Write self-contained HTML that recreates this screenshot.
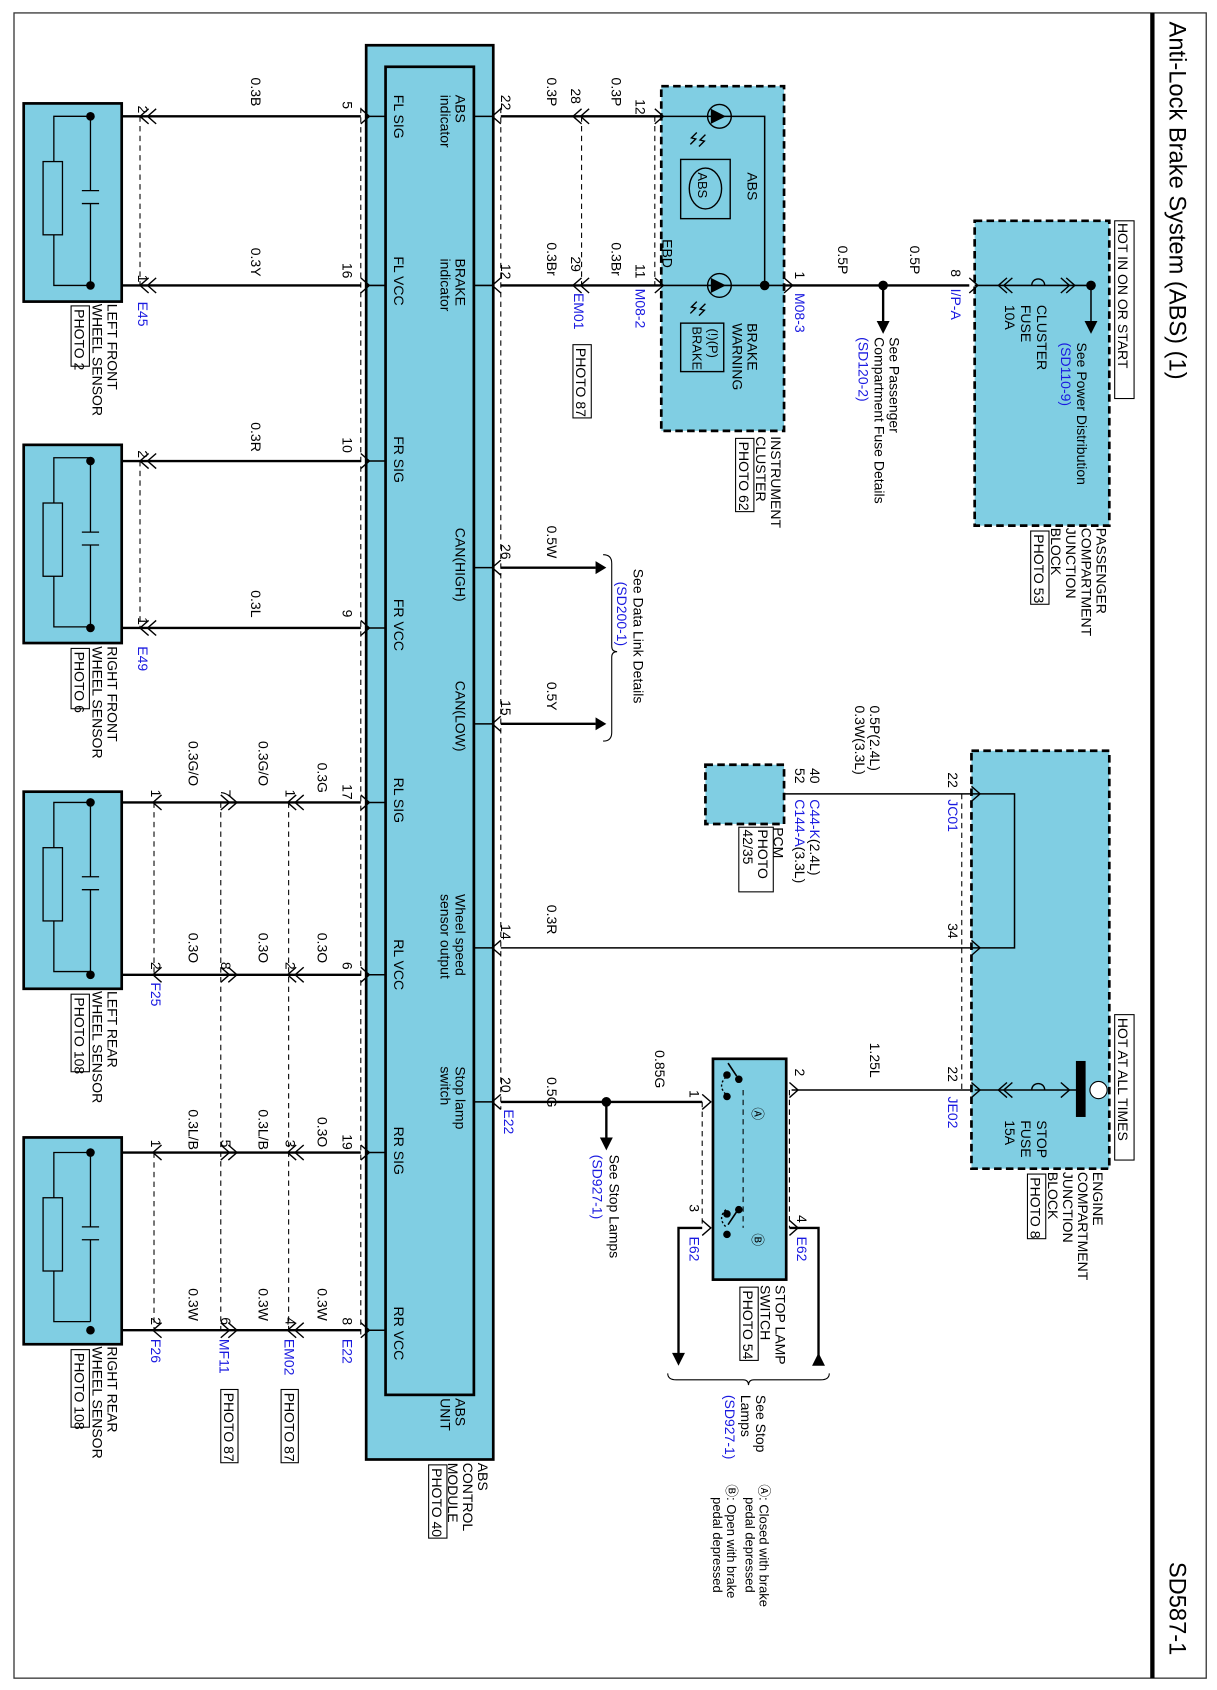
<!DOCTYPE html>
<html><head><meta charset="utf-8"><style>
html,body{margin:0;padding:0;background:#fff}
svg{display:block}
text{font-family:"Liberation Sans",Arial,sans-serif;font-size:13px;fill:#000}
.b{fill:#1a1ae0}
.s{font-size:12px}
</style></head><body>
<svg width="1217" height="1690" viewBox="0 0 1130 1569" preserveAspectRatio="none" xmlns="http://www.w3.org/2000/svg">
<rect x="0" y="0" width="1130" height="1569" fill="#fff"/>
<rect x="13" y="12" width="1107" height="1546" fill="none" stroke="#333" stroke-width="1.2"/>
<line x1="1070" y1="12" x2="1070" y2="1558" stroke="#000" stroke-width="4"/>
<text x="1086" y="20" transform="rotate(90 1086 20)" style="font-size:22px">Anti-Lock Brake System (ABS) (1)</text>
<text x="1086" y="1450" transform="rotate(90 1086 1450)" style="font-size:22px">SD587-1</text>

<g fill="#80cee3" stroke="#000">
<rect x="340" y="42" width="118" height="1313" stroke-width="2.5"/>
<rect x="358" y="62" width="82" height="1233" stroke-width="2.5"/>
<rect x="22" y="96" width="91" height="184" stroke-width="2.5"/>
<rect x="22" y="413" width="91" height="184" stroke-width="2.5"/>
<rect x="22" y="735" width="91" height="183" stroke-width="2.5"/>
<rect x="22" y="1056" width="91" height="192" stroke-width="2.5"/>
<rect x="614" y="80" width="114" height="320" stroke-width="2.5" stroke-dasharray="7,4"/>
<rect x="905" y="205" width="125" height="283" stroke-width="2.5" stroke-dasharray="7,4"/>
<rect x="902" y="697" width="128" height="388" stroke-width="2.5" stroke-dasharray="7,4"/>
<rect x="655" y="710" width="73" height="55" stroke-width="2.5" stroke-dasharray="7,4"/>
<rect x="662" y="983" width="68" height="205" stroke-width="2.5"/>
</g>

<g stroke="#000" stroke-width="1.2" fill="none">
<g id="sen">
<path d="M84 108 V177 M84 189 V265 M76 177 H92 M76 189 H92 M84 108 H50 V150 M50 218 V265 H84"/>
<rect x="40" y="150" width="18" height="68" fill="#80cee3"/>
</g>
<use href="#sen" y="317"/>
<use href="#sen" y="637"/>
<use href="#sen" y="962"/>
</g>
<g fill="#000">
<circle cx="84" cy="108" r="4"/><circle cx="84" cy="265" r="4"/>
<circle cx="84" cy="428" r="4"/><circle cx="84" cy="583" r="4"/>
<circle cx="84" cy="745" r="4"/><circle cx="84" cy="905" r="4"/>
<circle cx="84" cy="1070" r="4"/><circle cx="84" cy="1235" r="4"/>
</g>

<g stroke="#000" stroke-width="2.2" fill="none">
<path d="M113 108H335 M113 265H335 M113 428H335 M113 583H335 M113 745H335 M113 905H335 M113 1070H335 M113 1235H335"/>
<path d="M465 108H614 M465 265H614 M465 527H553 M465 672H553 M728 265H900"/>
<path d="M465 1023H652 M563 1023V1058"/>
<path d="M820 265V300"/>
<path d="M652 1140H630V1258 M733 1140H760V1262"/>
</g>
<g stroke="#000" stroke-width="1.4" fill="none">
<path d="M465 880H902 M728 737H902 M735 1012H902"/>
<path d="M440 108H458 M440 265H458 M440 527H458 M440 672H458 M440 880H458 M440 1023H458"/>
<path d="M340 108H358 M340 265H358 M340 428H358 M340 583H358 M340 745H358 M340 905H358 M340 1070H358 M340 1235H358"/>
<path d="M614 108H710V265 M614 265H728"/>
<path d="M902 737H942V880H902"/>
<path d="M905 265H1013V300 M905 1012H1000"/>
</g>
<g stroke="#000" stroke-width="1" stroke-dasharray="5,4" fill="none">
<path d="M130 108V265 M130 428V583 M143 745V905 M143 1070V1235"/>
<path d="M205 745V1235 M268 745V1235"/>
<path d="M335 100V1240 M465 100V1030 M540 108V265 M608 108V265"/>
<path d="M893 737V880 M893 880V1012"/>
<path d="M652 1023V1140 M733 1012V1140 M690 1012V1140"/>
</g>
<g stroke="#000" stroke-width="1.3" fill="none">
<path d="M138 101L130 108L138 115 M145 101L137 108L145 115"/>
<path d="M138 258L130 265L138 272 M145 258L137 265L145 272"/>
<path d="M138 421L130 428L138 435 M145 421L137 428L145 435"/>
<path d="M138 576L130 583L138 590 M145 576L137 583L145 590"/>
<path d="M335 101L343 108L335 115 M335 258L343 265L335 272 M335 421L343 428L335 435 M335 576L343 583L335 590 M335 738L343 745L335 752 M335 898L343 905L335 912 M335 1063L343 1070L335 1077 M335 1228L343 1235L335 1242"/>
<path d="M465 101L457 108L465 115 M465 258L457 265L465 272 M465 520L457 527L465 534 M465 665L457 672L465 679 M465 873L457 880L465 887 M465 1016L457 1023L465 1030"/>
<path d="M540 101L532 108L540 115 M547 101L539 108L547 115 M540 258L532 265L540 272 M547 258L539 265L547 272"/>
<path d="M608 101L616 108L608 115 M608 258L616 265L608 272 M728 258L736 265L728 272 M900 258L908 265L900 272"/>
<path d="M902 730L910 737L902 744 M902 873L910 880L902 887 M902 1005L910 1012L902 1019 M733 1005L741 1012L733 1019 M652 1016L660 1023L652 1030 M652 1133L660 1140L652 1147 M733 1133L741 1140L733 1147"/>
<path d="M150 738L142 745L150 752 M150 898L142 905L150 912 M150 1063L142 1070L150 1077 M150 1228L142 1235L150 1242"/>
<path d="M205 738L213 745L205 752 M212 738L220 745L212 752 M205 898L213 905L205 912 M212 898L220 905L212 912 M205 1063L213 1070L205 1077 M212 1063L220 1070L212 1077 M205 1228L213 1235L205 1242 M212 1228L220 1235L212 1242"/>
<path d="M275 738L267 745L275 752 M282 738L274 745L282 752 M275 898L267 905L275 912 M282 898L274 905L282 912 M275 1063L267 1070L275 1077 M282 1063L274 1070L282 1077 M275 1228L267 1235L275 1242 M282 1228L274 1235L282 1242"/>
<path d="M935 258L927 265L935 272 M940 258L932 265L940 272 M990 258L998 265L990 272 M985 258L993 265L985 272 M935 1005L927 1012L935 1019 M940 1005L932 1012L940 1019 M985 1005L993 1012L985 1019"/>
<path d="M958 265 c0 -8 12 -8 12 0 M958 1012 c0 -8 12 -8 12 0"/>
</g>
<g fill="#000">
<polygon points="553,521 563,527 553,533"/>
<polygon points="553,666 563,672 553,678"/>
<polygon points="814,298 826,298 820,310"/>
<polygon points="1007,298 1019,298 1013,310"/>
<polygon points="557,1056 569,1056 563,1068"/>
<polygon points="624,1256 636,1256 630,1268"/>
<polygon points="754,1268 766,1268 760,1256"/>
<circle cx="820" cy="265" r="4.5"/><circle cx="1013" cy="265" r="4.5"/>
<circle cx="710" cy="265" r="4.5"/><circle cx="563" cy="1023" r="4.5"/>
<rect x="999" y="985" width="9" height="52"/>
</g>
<circle cx="1020" cy="1012" r="8" fill="#fff" stroke="#000"/>
<g stroke="#000" stroke-width="1.3" fill="none">
<circle cx="668" cy="108" r="11"/><circle cx="668" cy="265" r="11"/>
<rect x="632" y="148" width="46" height="55"/><ellipse cx="655" cy="175" rx="15" ry="19"/>
<rect x="632" y="300" width="40" height="45"/>
<path d="M655 125l-5 5 4 1-5 5 M647 123l-5 5 4 1-5 5 M655 282l-5 5 4 1-5 5 M647 280l-5 5 4 1-5 5"/>
<path d="M684 999 l-8 -12 M684 1125 l-8 12" stroke-width="1.5"/>
<path d="M674 1000 q-8 8 0 16 M674 1123 q-8 8 0 16" stroke-dasharray="2,2"/>
</g>
<g fill="#000"><polygon points="660,101 660,115 674,108"/><polygon points="660,258 660,272 674,265"/>
<circle cx="686" cy="1002" r="3.5"/><circle cx="675" cy="998" r="3.5"/><circle cx="675" cy="1018" r="3.5"/>
<circle cx="686" cy="1123" r="3.5"/><circle cx="675" cy="1127" r="3.5"/><circle cx="675" cy="1146" r="3.5"/></g>
<path d="M560 515 q8 0 8 8 V600 q0 5 5 5 q-5 0 -5 5 V680 q0 8 -8 8" fill="none" stroke="#000"/>
<path d="M620 1275 q0 6 8 6 H690 q5 0 5 5 q0 -5 5 -5 H762 q8 0 8 -6" fill="none" stroke="#000"/>

<g>
<text x="233" y="72" transform="rotate(90 233 72)">0.3B</text>
<text x="233" y="230" transform="rotate(90 233 230)">0.3Y</text>
<text x="233" y="392" transform="rotate(90 233 392)">0.3R</text>
<text x="233" y="548" transform="rotate(90 233 548)">0.3L</text>
<text x="318" y="94" transform="rotate(90 318 94)">5</text>
<text x="318" y="244" transform="rotate(90 318 244)">16</text>
<text x="318" y="406" transform="rotate(90 318 406)">10</text>
<text x="318" y="566" transform="rotate(90 318 566)">9</text>
<text x="128" y="98" transform="rotate(90 128 98)">2</text>
<text x="128" y="255" transform="rotate(90 128 255)">1</text>
<text x="128" y="418" transform="rotate(90 128 418)">2</text>
<text x="128" y="573" transform="rotate(90 128 573)">1</text>
<text class="b" x="128" y="280" transform="rotate(90 128 280)">E45</text>
<text class="b" x="128" y="600" transform="rotate(90 128 600)">E49</text>
<text x="100" y="282" transform="rotate(90 100 282)">LEFT FRONT</text>
<text x="86" y="282" transform="rotate(90 86 282)">WHEEL SENSOR</text>
<text x="69" y="287" transform="rotate(90 69 287)">PHOTO 2</text><rect x="66" y="284" width="17" height="56" fill="none" stroke="#000"/>
<text x="100" y="600" transform="rotate(90 100 600)">RIGHT FRONT</text>
<text x="86" y="600" transform="rotate(90 86 600)">WHEEL SENSOR</text>
<text x="69" y="605" transform="rotate(90 69 605)">PHOTO 6</text><rect x="66" y="602" width="17" height="56" fill="none" stroke="#000"/>
<text x="100" y="920" transform="rotate(90 100 920)">LEFT REAR</text>
<text x="86" y="920" transform="rotate(90 86 920)">WHEEL SENSOR</text>
<text x="69" y="926" transform="rotate(90 69 926)">PHOTO 108</text><rect x="66" y="923" width="17" height="72" fill="none" stroke="#000"/>
<text x="100" y="1250" transform="rotate(90 100 1250)">RIGHT REAR</text>
<text x="86" y="1250" transform="rotate(90 86 1250)">WHEEL SENSOR</text>
<text x="69" y="1256" transform="rotate(90 69 1256)">PHOTO 108</text><rect x="66" y="1253" width="17" height="72" fill="none" stroke="#000"/>

<text x="175" y="688" transform="rotate(90 175 688)">0.3G/O</text>
<text x="240" y="688" transform="rotate(90 240 688)">0.3G/O</text>
<text x="295" y="708" transform="rotate(90 295 708)">0.3G</text>
<text x="175" y="866" transform="rotate(90 175 866)">0.3O</text>
<text x="240" y="866" transform="rotate(90 240 866)">0.3O</text>
<text x="295" y="866" transform="rotate(90 295 866)">0.3O</text>
<text x="175" y="1030" transform="rotate(90 175 1030)">0.3L/B</text>
<text x="240" y="1030" transform="rotate(90 240 1030)">0.3L/B</text>
<text x="295" y="1037" transform="rotate(90 295 1037)">0.3O</text>
<text x="175" y="1196" transform="rotate(90 175 1196)">0.3W</text>
<text x="240" y="1196" transform="rotate(90 240 1196)">0.3W</text>
<text x="295" y="1196" transform="rotate(90 295 1196)">0.3W</text>
<text x="140" y="733" transform="rotate(90 140 733)">1</text>
<text x="205" y="733" transform="rotate(90 205 733)">7</text>
<text x="265" y="733" transform="rotate(90 265 733)">1</text>
<text x="318" y="728" transform="rotate(90 318 728)">17</text>
<text x="140" y="893" transform="rotate(90 140 893)">2</text>
<text x="205" y="893" transform="rotate(90 205 893)">8</text>
<text x="265" y="893" transform="rotate(90 265 893)">2</text>
<text x="318" y="893" transform="rotate(90 318 893)">6</text>
<text x="140" y="1058" transform="rotate(90 140 1058)">1</text>
<text x="205" y="1058" transform="rotate(90 205 1058)">5</text>
<text x="265" y="1058" transform="rotate(90 265 1058)">3</text>
<text x="318" y="1053" transform="rotate(90 318 1053)">19</text>
<text x="140" y="1223" transform="rotate(90 140 1223)">2</text>
<text x="205" y="1223" transform="rotate(90 205 1223)">6</text>
<text x="265" y="1223" transform="rotate(90 265 1223)">4</text>
<text x="318" y="1223" transform="rotate(90 318 1223)">8</text>
<text class="b" x="140" y="1243" transform="rotate(90 140 1243)">F26</text>
<text class="b" x="140" y="912" transform="rotate(90 140 912)">F25</text>
<text class="b" x="204" y="1243" transform="rotate(90 204 1243)">MF11</text>
<text class="b" x="264" y="1243" transform="rotate(90 264 1243)">EM02</text>
<text class="b" x="318" y="1243" transform="rotate(90 318 1243)">E22</text>
<text x="208" y="1293" transform="rotate(90 208 1293)">PHOTO 87</text><rect x="205" y="1290" width="16" height="68" fill="none" stroke="#000"/>
<text x="264" y="1293" transform="rotate(90 264 1293)">PHOTO 87</text><rect x="261" y="1290" width="16" height="68" fill="none" stroke="#000"/>

<text x="366" y="88" transform="rotate(90 366 88)">FL SIG</text>
<text x="366" y="238" transform="rotate(90 366 238)">FL VCC</text>
<text x="366" y="405" transform="rotate(90 366 405)">FR SIG</text>
<text x="366" y="556" transform="rotate(90 366 556)">FR VCC</text>
<text x="366" y="722" transform="rotate(90 366 722)">RL SIG</text>
<text x="366" y="872" transform="rotate(90 366 872)">RL VCC</text>
<text x="366" y="1046" transform="rotate(90 366 1046)">RR SIG</text>
<text x="366" y="1213" transform="rotate(90 366 1213)">RR VCC</text>
<text x="423" y="88" transform="rotate(90 423 88)">ABS</text>
<text x="409" y="88" transform="rotate(90 409 88)">indicator</text>
<text x="423" y="240" transform="rotate(90 423 240)">BRAKE</text>
<text x="409" y="240" transform="rotate(90 409 240)">indicator</text>
<text x="423" y="490" transform="rotate(90 423 490)">CAN(HIGH)</text>
<text x="423" y="632" transform="rotate(90 423 632)">CAN(LOW)</text>
<text x="423" y="830" transform="rotate(90 423 830)">Wheel speed</text>
<text x="409" y="830" transform="rotate(90 409 830)">sensor output</text>
<text x="423" y="990" transform="rotate(90 423 990)">Stop lamp</text>
<text x="409" y="990" transform="rotate(90 409 990)">switch</text>
<text x="423" y="1298" transform="rotate(90 423 1298)">ABS</text>
<text x="409" y="1298" transform="rotate(90 409 1298)">UNIT</text>
<text x="444" y="1358" transform="rotate(90 444 1358)">ABS</text>
<text x="430" y="1358" transform="rotate(90 430 1358)">CONTROL</text>
<text x="416" y="1358" transform="rotate(90 416 1358)">MODULE</text>
<text x="401" y="1363" transform="rotate(90 401 1363)">PHOTO 40</text><rect x="398" y="1360" width="17" height="68" fill="none" stroke="#000"/>

<text x="465" y="88" transform="rotate(90 465 88)">22</text>
<text x="465" y="245" transform="rotate(90 465 245)">12</text>
<text x="465" y="505" transform="rotate(90 465 505)">26</text>
<text x="465" y="650" transform="rotate(90 465 650)">15</text>
<text x="465" y="858" transform="rotate(90 465 858)">14</text>
<text x="465" y="1000" transform="rotate(90 465 1000)">20</text>
<text class="b" x="468" y="1030" transform="rotate(90 468 1030)">E22</text>
<text x="508" y="72" transform="rotate(90 508 72)">0.3P</text>
<text x="508" y="225" transform="rotate(90 508 225)">0.3Br</text>
<text x="508" y="488" transform="rotate(90 508 488)">0.5W</text>
<text x="508" y="633" transform="rotate(90 508 633)">0.5Y</text>
<text x="508" y="840" transform="rotate(90 508 840)">0.3R</text>
<text x="508" y="1000" transform="rotate(90 508 1000)">0.5G</text>
<text x="530" y="82" transform="rotate(90 530 82)">28</text>
<text x="530" y="238" transform="rotate(90 530 238)">29</text>
<text class="b" x="533" y="272" transform="rotate(90 533 272)">EM01</text>
<text x="535" y="323" transform="rotate(90 535 323)">PHOTO 87</text><rect x="532" y="320" width="17" height="68" fill="none" stroke="#000"/>
<text x="568" y="72" transform="rotate(90 568 72)">0.3P</text>
<text x="568" y="225" transform="rotate(90 568 225)">0.3Br</text>
<text x="590" y="92" transform="rotate(90 590 92)">12</text>
<text x="590" y="245" transform="rotate(90 590 245)">11</text>
<text class="b" x="590" y="268" transform="rotate(90 590 268)">M08-2</text>
<text x="588" y="528" transform="rotate(90 588 528)">See Data Link Details</text>
<text class="b" x="573" y="540" transform="rotate(90 573 540)">(SD200-1)</text>

<text x="615" y="222" transform="rotate(90 615 222)">EBD</text>
<text x="694" y="160" transform="rotate(90 694 160)">ABS</text>
<text x="648" y="160" transform="rotate(90 648 160)" class="s">ABS</text>
<text x="694" y="300" transform="rotate(90 694 300)">BRAKE</text>
<text x="680" y="300" transform="rotate(90 680 300)">WARNING</text>
<text x="658" y="305" transform="rotate(90 658 305)" class="s">(!)(P)</text>
<text x="643" y="303" transform="rotate(90 643 303)" class="s">BRAKE</text>
<text x="716" y="405" transform="rotate(90 716 405)">INSTRUMENT</text>
<text x="702" y="405" transform="rotate(90 702 405)">CLUSTER</text>
<text x="686" y="410" transform="rotate(90 686 410)">PHOTO 62</text><rect x="683" y="407" width="17" height="68" fill="none" stroke="#000"/>

<text x="738" y="252" transform="rotate(90 738 252)">1</text>
<text class="b" x="738" y="272" transform="rotate(90 738 272)">M08-3</text>
<text x="778" y="228" transform="rotate(90 778 228)">0.5P</text>
<text x="845" y="228" transform="rotate(90 845 228)">0.5P</text>
<text x="826" y="313" transform="rotate(90 826 313)">See Passenger</text>
<text x="812" y="313" transform="rotate(90 812 313)">Compartment Fuse Details</text>
<text class="b" x="797" y="313" transform="rotate(90 797 313)">(SD120-2)</text>
<text x="883" y="250" transform="rotate(90 883 250)">8</text>
<text class="b" x="883" y="268" transform="rotate(90 883 268)">I/P-A</text>
<text x="1000" y="318" transform="rotate(90 1000 318)">See Power Distribution</text>
<text class="b" x="985" y="318" transform="rotate(90 985 318)">(SD110-9)</text>
<text x="963" y="283" transform="rotate(90 963 283)">CLUSTER</text>
<text x="948" y="283" transform="rotate(90 948 283)">FUSE</text>
<text x="933" y="283" transform="rotate(90 933 283)">10A</text>
<text x="1038" y="207" transform="rotate(90 1038 207)">HOT IN ON OR START</text><rect x="1035" y="205" width="18" height="165" fill="none" stroke="#000"/>
<text x="1018" y="490" transform="rotate(90 1018 490)">PASSENGER</text>
<text x="1004" y="490" transform="rotate(90 1004 490)">COMPARTMENT</text>
<text x="990" y="490" transform="rotate(90 990 490)">JUNCTION</text>
<text x="976" y="490" transform="rotate(90 976 490)">BLOCK</text>
<text x="960" y="496" transform="rotate(90 960 496)">PHOTO 53</text><rect x="957" y="493" width="17" height="68" fill="none" stroke="#000"/>

<text x="808" y="655" transform="rotate(90 808 655)">0.5P(2.4L)</text>
<text x="794" y="655" transform="rotate(90 794 655)">0.3W(3.3L)</text>
<text x="752" y="713" transform="rotate(90 752 713)">40</text>
<text x="738" y="713" transform="rotate(90 738 713)">52</text>
<text x="752" y="742" transform="rotate(90 752 742)"><tspan class="b">C44-K</tspan>(2.4L)</text>
<text x="738" y="742" transform="rotate(90 738 742)"><tspan class="b">C144-A</tspan>(3.3L)</text>
<text x="718" y="768" transform="rotate(90 718 768)">PCM</text>
<text x="704" y="770" transform="rotate(90 704 770)">PHOTO</text>
<text x="690" y="770" transform="rotate(90 690 770)">42/35</text><rect x="686" y="768" width="32" height="60" fill="none" stroke="#000"/>
<text x="880" y="717" transform="rotate(90 880 717)">22</text>
<text class="b" x="880" y="742" transform="rotate(90 880 742)">JC01</text>
<text x="880" y="857" transform="rotate(90 880 857)">34</text>
<text x="880" y="990" transform="rotate(90 880 990)">22</text>
<text class="b" x="880" y="1018" transform="rotate(90 880 1018)">JE02</text>
<text x="808" y="968" transform="rotate(90 808 968)">1.25L</text>
<text x="963" y="1040" transform="rotate(90 963 1040)">STOP</text>
<text x="948" y="1040" transform="rotate(90 948 1040)">FUSE</text>
<text x="933" y="1040" transform="rotate(90 933 1040)">15A</text>
<text x="1038" y="945" transform="rotate(90 1038 945)">HOT AT ALL TIMES</text><rect x="1035" y="942" width="18" height="135" fill="none" stroke="#000"/>
<text x="1015" y="1088" transform="rotate(90 1015 1088)">ENGINE</text>
<text x="1001" y="1088" transform="rotate(90 1001 1088)">COMPARTMENT</text>
<text x="987" y="1088" transform="rotate(90 987 1088)">JUNCTION</text>
<text x="973" y="1088" transform="rotate(90 973 1088)">BLOCK</text>
<text x="957" y="1093" transform="rotate(90 957 1093)">PHOTO 8</text><rect x="954" y="1090" width="17" height="60" fill="none" stroke="#000"/>

<text x="738" y="992" transform="rotate(90 738 992)">2</text>
<text x="740" y="1128" transform="rotate(90 740 1128)">4</text>
<text class="b" x="740" y="1148" transform="rotate(90 740 1148)">E62</text>
<text x="640" y="1012" transform="rotate(90 640 1012)">1</text>
<text x="640" y="1118" transform="rotate(90 640 1118)">3</text>
<text class="b" x="640" y="1148" transform="rotate(90 640 1148)">E62</text>
<text x="608" y="975" transform="rotate(90 608 975)">0.85G</text>
<text x="699" y="1028" transform="rotate(90 699 1028)" class="s">Ⓐ</text>
<text x="699" y="1145" transform="rotate(90 699 1145)" class="s">Ⓑ</text>
<text x="566" y="1072" transform="rotate(90 566 1072)">See Stop Lamps</text>
<text class="b" x="550" y="1072" transform="rotate(90 550 1072)">(SD927-1)</text>
<text x="720" y="1193" transform="rotate(90 720 1193)">STOP LAMP</text>
<text x="706" y="1193" transform="rotate(90 706 1193)">SWITCH</text>
<text x="690" y="1198" transform="rotate(90 690 1198)">PHOTO 54</text><rect x="687" y="1195" width="17" height="68" fill="none" stroke="#000"/>
<text x="702" y="1295" transform="rotate(90 702 1295)">See Stop</text>
<text x="688" y="1295" transform="rotate(90 688 1295)">Lamps</text>
<text class="b" x="673" y="1295" transform="rotate(90 673 1295)">(SD927-1)</text>
<text x="705" y="1378" transform="rotate(90 705 1378)" class="s">Ⓐ: Closed with brake</text>
<text x="692" y="1390" transform="rotate(90 692 1390)" class="s">pedal depressed</text>
<text x="675" y="1378" transform="rotate(90 675 1378)" class="s">Ⓑ: Open with brake</text>
<text x="662" y="1390" transform="rotate(90 662 1390)" class="s">pedal depressed</text>
</g>
</svg>
</body></html>
